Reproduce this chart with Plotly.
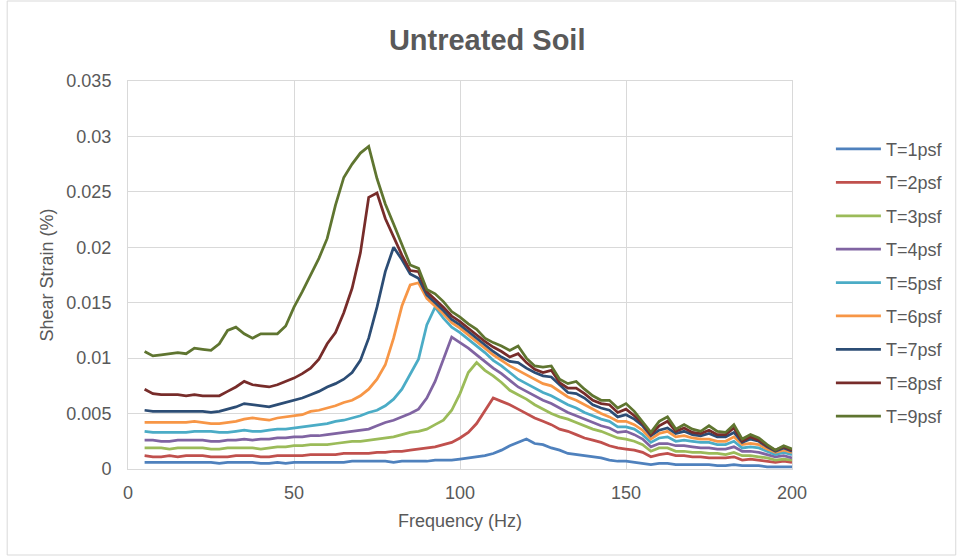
import plotly.graph_objects as go

freq = [5, 7.5, 10, 12.5, 15, 17.5, 20, 22.5, 25, 27.5,
        30, 32.5, 35, 37.5, 40, 42.5, 45, 47.5, 50, 52.5,
        55, 57.5, 60, 62.5, 65, 67.5, 70, 72.5, 75, 77.5,
        80, 82.5, 85, 87.5, 90, 92.5, 95, 97.5, 100, 102.5,
        105, 107.5, 110, 112.5, 115, 117.5, 120, 122.5, 125, 127.5,
        130, 132.5, 135, 137.5, 140, 142.5, 145, 147.5, 150, 152.5,
        155, 157.5, 160, 162.5, 165, 167.5, 170, 172.5, 175, 177.5,
        180, 182.5, 185, 187.5, 190, 192.5, 195, 197.5, 200]

t1 = [0.0006, 0.0006, 0.0006, 0.0006, 0.0006, 0.0006, 0.0006, 0.0006, 0.0006, 0.0005,
      0.0006, 0.0006, 0.0006, 0.0006, 0.0005, 0.0005, 0.0006, 0.0005, 0.0006, 0.0006,
      0.0006, 0.0006, 0.0006, 0.0006, 0.0006, 0.0007, 0.0007, 0.0007, 0.0007, 0.0007,
      0.0006, 0.0007, 0.0007, 0.0007, 0.0007, 0.0008, 0.0008, 0.0008, 0.0009, 0.0010,
      0.0011, 0.0012, 0.0014, 0.0017, 0.0021, 0.0024, 0.0027, 0.0023, 0.0022, 0.0019,
      0.0017, 0.0014, 0.0013, 0.0012, 0.0011, 0.0010, 0.0008, 0.0007, 0.0007, 0.0006,
      0.0005, 0.0004, 0.0005, 0.0005, 0.0004, 0.0004, 0.0004, 0.0004, 0.0004, 0.0003,
      0.0003, 0.0004, 0.0003, 0.0003, 0.0003, 0.0002, 0.0002, 0.0002, 0.0002]

t2 = [0.0012, 0.0011, 0.0011, 0.0012, 0.0011, 0.0012, 0.0012, 0.0012, 0.0011, 0.0011,
      0.0011, 0.0012, 0.0012, 0.0012, 0.0011, 0.0011, 0.0012, 0.0012, 0.0012, 0.0012,
      0.0013, 0.0013, 0.0013, 0.0013, 0.0014, 0.0014, 0.0014, 0.0014, 0.0015, 0.0015,
      0.0016, 0.0016, 0.0017, 0.0018, 0.0019, 0.0020, 0.0022, 0.0024, 0.0028, 0.0033,
      0.0041, 0.0052, 0.0064, 0.0061, 0.0058, 0.0054, 0.0050, 0.0046, 0.0043, 0.0040,
      0.0036, 0.0034, 0.0031, 0.0028, 0.0026, 0.0024, 0.0021, 0.0019, 0.0018, 0.0017,
      0.0015, 0.0011, 0.0013, 0.0014, 0.0012, 0.0012, 0.0011, 0.0011, 0.0010, 0.0010,
      0.0010, 0.0011, 0.0008, 0.0009, 0.0008, 0.0007, 0.0006, 0.0007, 0.0006]

t3 = [0.0019, 0.0019, 0.0019, 0.0018, 0.0019, 0.0019, 0.0019, 0.0019, 0.0018, 0.0018,
      0.0019, 0.0019, 0.0019, 0.0019, 0.0018, 0.0019, 0.0020, 0.0020, 0.0021, 0.0021,
      0.0022, 0.0022, 0.0022, 0.0023, 0.0024, 0.0025, 0.0025, 0.0026, 0.0027, 0.0028,
      0.0029, 0.0031, 0.0033, 0.0034, 0.0036, 0.0040, 0.0044, 0.0053, 0.0068, 0.0087,
      0.0096, 0.0089, 0.0084, 0.0078, 0.0071, 0.0067, 0.0063, 0.0058, 0.0054, 0.0050,
      0.0047, 0.0045, 0.0042, 0.0039, 0.0036, 0.0034, 0.0031, 0.0028, 0.0027, 0.0025,
      0.0022, 0.0016, 0.0019, 0.0019, 0.0016, 0.0016, 0.0015, 0.0015, 0.0014, 0.0014,
      0.0013, 0.0015, 0.0012, 0.0012, 0.0011, 0.0010, 0.0008, 0.0009, 0.0008]

t4 = [0.0026, 0.0026, 0.0025, 0.0025, 0.0026, 0.0026, 0.0026, 0.0026, 0.0025, 0.0025,
      0.0026, 0.0026, 0.0027, 0.0026, 0.0027, 0.0027, 0.0028, 0.0028, 0.0029, 0.0029,
      0.0030, 0.0030, 0.0031, 0.0032, 0.0033, 0.0034, 0.0035, 0.0036, 0.0039, 0.0042,
      0.0044, 0.0047, 0.0050, 0.0054, 0.0064, 0.0079, 0.0100, 0.0119, 0.0114, 0.0109,
      0.0103, 0.0097, 0.0091, 0.0086, 0.0080, 0.0074, 0.0070, 0.0066, 0.0062, 0.0059,
      0.0055, 0.0051, 0.0048, 0.0045, 0.0042, 0.0039, 0.0037, 0.0033, 0.0034, 0.0031,
      0.0027, 0.0020, 0.0023, 0.0023, 0.0021, 0.0021, 0.0020, 0.0019, 0.0019, 0.0018,
      0.0018, 0.0020, 0.0016, 0.0016, 0.0015, 0.0013, 0.0011, 0.0012, 0.0010]

t5 = [0.0034, 0.0033, 0.0033, 0.0033, 0.0033, 0.0033, 0.0034, 0.0034, 0.0034, 0.0033,
      0.0033, 0.0034, 0.0035, 0.0034, 0.0034, 0.0035, 0.0036, 0.0036, 0.0037, 0.0038,
      0.0039, 0.0040, 0.0041, 0.0043, 0.0044, 0.0046, 0.0048, 0.0051, 0.0053, 0.0057,
      0.0063, 0.0072, 0.0085, 0.0099, 0.0130, 0.0146, 0.0136, 0.0128, 0.0123, 0.0117,
      0.0111, 0.0105, 0.0098, 0.0093, 0.0087, 0.0081, 0.0077, 0.0073, 0.0069, 0.0066,
      0.0062, 0.0058, 0.0055, 0.0051, 0.0048, 0.0045, 0.0043, 0.0038, 0.0038, 0.0036,
      0.0031, 0.0024, 0.0028, 0.0029, 0.0025, 0.0026, 0.0025, 0.0024, 0.0024, 0.0022,
      0.0022, 0.0025, 0.0019, 0.0020, 0.0019, 0.0016, 0.0013, 0.0015, 0.0013]

t6 = [0.0042, 0.0042, 0.0042, 0.0042, 0.0042, 0.0042, 0.0043, 0.0042, 0.0041, 0.0041,
      0.0042, 0.0043, 0.0045, 0.0046, 0.0045, 0.0044, 0.0046, 0.0047, 0.0048, 0.0049,
      0.0052, 0.0053, 0.0055, 0.0057, 0.0060, 0.0062, 0.0066, 0.0072, 0.0081, 0.0094,
      0.0118, 0.0147, 0.0166, 0.0168, 0.0154, 0.0147, 0.0140, 0.0132, 0.0127, 0.0121,
      0.0115, 0.0109, 0.0103, 0.0098, 0.0093, 0.0089, 0.0085, 0.0081, 0.0077, 0.0075,
      0.0070, 0.0065, 0.0062, 0.0058, 0.0054, 0.0050, 0.0047, 0.0043, 0.0043, 0.0040,
      0.0035, 0.0027, 0.0032, 0.0034, 0.0029, 0.0030, 0.0028, 0.0027, 0.0027, 0.0025,
      0.0025, 0.0029, 0.0022, 0.0023, 0.0022, 0.0018, 0.0015, 0.0017, 0.0015]

t7 = [0.0053, 0.0052, 0.0052, 0.0052, 0.0052, 0.0052, 0.0052, 0.0052, 0.0051, 0.0052,
      0.0054, 0.0056, 0.0059, 0.0058, 0.0057, 0.0056, 0.0058, 0.0060, 0.0062, 0.0064,
      0.0067, 0.0070, 0.0074, 0.0077, 0.0081, 0.0087, 0.0098, 0.0118, 0.0146, 0.0178,
      0.0200, 0.0189, 0.0176, 0.0172, 0.0157, 0.0150, 0.0143, 0.0135, 0.0130, 0.0124,
      0.0118, 0.0112, 0.0106, 0.0101, 0.0097, 0.0096, 0.0091, 0.0087, 0.0084, 0.0083,
      0.0076, 0.0069, 0.0068, 0.0064, 0.0058, 0.0055, 0.0053, 0.0047, 0.0049, 0.0045,
      0.0039, 0.0030, 0.0035, 0.0037, 0.0032, 0.0034, 0.0031, 0.0030, 0.0032, 0.0029,
      0.0029, 0.0033, 0.0024, 0.0027, 0.0025, 0.0020, 0.0016, 0.0019, 0.0016]

t8 = [0.0072, 0.0068, 0.0067, 0.0067, 0.0067, 0.0066, 0.0067, 0.0066, 0.0066, 0.0066,
      0.0070, 0.0074, 0.0079, 0.0076, 0.0075, 0.0074, 0.0076, 0.0079, 0.0082, 0.0086,
      0.0091, 0.0099, 0.0113, 0.0123, 0.0141, 0.0163, 0.0195, 0.0245, 0.0249, 0.0226,
      0.0210, 0.0193, 0.0179, 0.0178, 0.0160, 0.0153, 0.0146, 0.0138, 0.0133, 0.0127,
      0.0121, 0.0115, 0.0110, 0.0106, 0.0101, 0.0104, 0.0096, 0.0090, 0.0087, 0.0089,
      0.0078, 0.0073, 0.0073, 0.0068, 0.0062, 0.0059, 0.0058, 0.0051, 0.0054, 0.0048,
      0.0041, 0.0031, 0.0039, 0.0043, 0.0034, 0.0037, 0.0033, 0.0032, 0.0035, 0.0031,
      0.0031, 0.0037, 0.0025, 0.0029, 0.0026, 0.0021, 0.0017, 0.0020, 0.0017]

t9 = [0.0106, 0.0102, 0.0103, 0.0104, 0.0105, 0.0104, 0.0109, 0.0108, 0.0107, 0.0113,
      0.0125, 0.0128, 0.0122, 0.0118, 0.0122, 0.0122, 0.0122, 0.0129, 0.0146, 0.0160,
      0.0175, 0.0190, 0.0208, 0.0238, 0.0263, 0.0275, 0.0285, 0.0291, 0.0262, 0.0239,
      0.0221, 0.0203, 0.0184, 0.0181, 0.0162, 0.0158, 0.0151, 0.0142, 0.0137, 0.0131,
      0.0126, 0.0118, 0.0114, 0.0111, 0.0107, 0.0111, 0.0100, 0.0093, 0.0092, 0.0093,
      0.0081, 0.0077, 0.0079, 0.0072, 0.0066, 0.0062, 0.0062, 0.0055, 0.0059, 0.0052,
      0.0043, 0.0033, 0.0043, 0.0047, 0.0036, 0.0040, 0.0036, 0.0034, 0.0039, 0.0034,
      0.0033, 0.0040, 0.0027, 0.0031, 0.0028, 0.0022, 0.0017, 0.0021, 0.0018]

series_names = ["T=1psf", "T=2psf", "T=3psf", "T=4psf", "T=5psf",
                "T=6psf", "T=7psf", "T=8psf", "T=9psf"]
series_values = [t1, t2, t3, t4, t5, t6, t7, t8, t9]
series_colors = ["#4F81BD", "#C0504D", "#9BBB59", "#8064A2", "#4BACC6",
                 "#F79646", "#2C4D75", "#772C2A", "#5F7530"]

x_ticks = [0, 50, 100, 150, 200]
x_tick_labels = ["0", "50", "100", "150", "200"]
y_ticks = [0, 0.005, 0.01, 0.015, 0.02, 0.025, 0.03, 0.035]
y_tick_labels = ["0", "0.005", "0.01", "0.015", "0.02", "0.025", "0.03", "0.035"]

FONT = "Liberation Sans, Arial, sans-serif"
TXT = "#595959"
GRID = "#D9D9D9"

fig = go.Figure()
for name, vals, col in zip(series_names, series_values, series_colors):
    assert len(vals) == len(freq), name
    fig.add_trace(go.Scatter(x=freq, y=vals, mode="lines", name=name,
                             legendgroup=name,
                             line=dict(color=col, width=2.75)))

fig.update_layout(
    width=959, height=559,
    margin=dict(l=128, r=166, t=81, b=90),
    paper_bgcolor="white", plot_bgcolor="white",
    font=dict(family=FONT, color=TXT, size=17),
    title=dict(text="<b>Untreated Soil</b>", x=0.508, xref="container",
               y=0.928, yref="container", xanchor="center", yanchor="middle",
               font=dict(size=29, color=TXT, family=FONT)),
    legend=dict(x=1.057, xanchor="left", y=0.48, yanchor="middle",
                font=dict(size=18, color=TXT, family=FONT),
                itemwidth=45,
                tracegroupgap=7, bgcolor="rgba(0,0,0,0)"),
    shapes=[dict(type="rect", xref="paper", yref="paper",
                 x0=(7 - 128) / 665, x1=(957 - 128) / 665,
                 y0=(469 - 555) / 388, y1=(469 - 1) / 388,
                 line=dict(color=GRID, width=1), layer="below")],
)
fig.update_xaxes(range=[0, 200], tickvals=x_ticks, ticktext=x_tick_labels,
                 showgrid=True, gridcolor=GRID, gridwidth=1,
                 zeroline=False, showline=True, linecolor=GRID, mirror=True,
                 ticks="", tickfont=dict(size=18, color=TXT),
                 ticklabelstandoff=7,
                 title=dict(text="Frequency (Hz)", font=dict(size=18, color=TXT),
                            standoff=12))
fig.update_yaxes(range=[0, 0.035], tickvals=y_ticks, ticktext=y_tick_labels,
                 showgrid=True, gridcolor=GRID, gridwidth=1,
                 zeroline=False, showline=True, linecolor=GRID, mirror=True,
                 ticks="", tickfont=dict(size=18, color=TXT),
                 ticklabelstandoff=12,
                 title=dict(text="Shear Strain (%)", font=dict(size=18, color=TXT),
                            standoff=8))

fig.write_html("out.html")
